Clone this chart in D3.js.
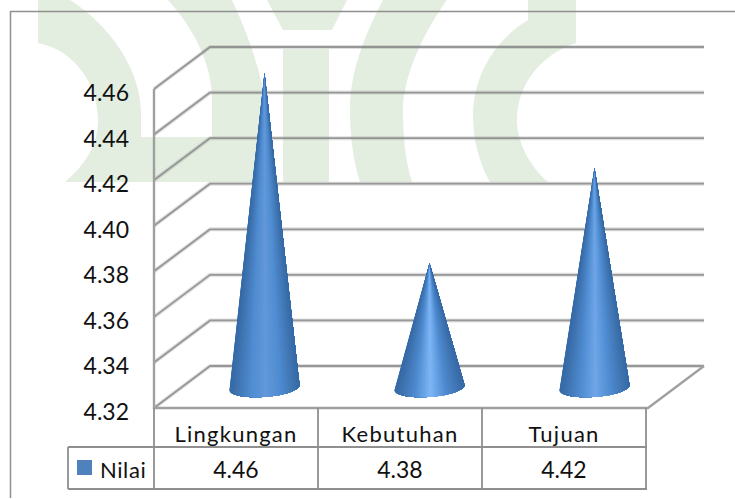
<!DOCTYPE html>
<html>
<head>
<meta charset="utf-8">
<style>
  html, body { margin: 0; padding: 0; background: #fff; }
  svg { display: block; }
  text { font-family: Lato, "Open Sans", sans-serif; fill: #111; }
</style>
<script src="https://cdn.jsdelivr.net/npm/d3@7"></script>
</head>
<body>
<svg id="chart" width="735" height="499"></svg>
<script>
const categories = ["Lingkungan", "Kebutuhan", "Tujuan"];
const seriesName = "Nilai";
const nilai = [4.46, 4.38, 4.42];
const yTicks = [4.32, 4.34, 4.36, 4.38, 4.40, 4.42, 4.44, 4.46];
const coneHighlights = ["#6299da", "#7db6f7", "#6ea6e8"];

const svg = d3.select("#chart");
const GREY = "#8f8f8f";

// Pale green emblem sitting behind the plot
const emblem = [
  "M38 0 L38 43 C75 50 98 85 98 120 C98 145 85 165 65 182 L276 182 C272 110 258 55 232 0 L168 0 C195 30 212 65 212 100 L212 137 L141 137 L141 113 C141 70 110 25 70 0 Z",
  "M267 0 L347 0 L332 30 L283 30 Z",
  "M283 49 L329 49 L329 182 L283 182 Z",
  "M383 0 C362 40 350 75 350 110 C350 135 353 160 360 182 L412 182 C405 160 403 135 403 110 C403 75 425 30 447 0 Z",
  "M528 0 L528 20 C495 40 473 75 473 117 C473 140 480 165 490 182 L548 182 C528 165 517 140 517 120 C517 85 540 55 576 43 L576 0 Z"
];
svg.append("g").selectAll("path").data(emblem).join("path")
  .attr("d", d => d).attr("fill", "#e3eee1");

// Outer chart frame: only the top and left edges fall inside the page
svg.append("path").attr("d", "M10.5 498 L10.5 11.5 L735 11.5")
  .attr("fill", "none").attr("stroke", GREY).attr("stroke-width", 1.5);

// Scales: front plane of the 3D box, plus the depth shift of the back wall
const x = d3.scaleBand().domain(categories).range([154, 646]);
const y = d3.scaleLinear().domain([4.32, 4.46]).range([408, 89]);
const depth = { dx: 56, dy: -42 };
const plotRight = 648;

// Cones stand on the middle of the floor, half a depth behind the front plane
const xCone = d3.scaleBand().domain(categories)
  .range([154 + depth.dx / 2, plotRight + depth.dx / 2 + 1]);
const yApex = d3.scaleLinear().domain([4.32, 4.46]).range([405.5, 73]);

// Gridlines: a soft wide stroke under a narrower dark one
const grid = svg.append("g").attr("fill", "none").attr("stroke-linejoin", "round");
const gridPath = v => {
  const p = d3.path();
  p.moveTo(154, y(v));
  p.lineTo(154 + depth.dx, y(v) + depth.dy);
  p.lineTo(plotRight + depth.dx, y(v) + depth.dy);
  return p.toString();
};
grid.selectAll("path.soft").data(yTicks).join("path").attr("class", "soft")
  .attr("d", gridPath).attr("stroke", "#808080").attr("stroke-opacity", 0.25).attr("stroke-width", 4);
grid.selectAll("path.core").data(yTicks).join("path").attr("class", "core")
  .attr("d", gridPath).attr("stroke", "#7f7f7f").attr("stroke-opacity", 0.75).attr("stroke-width", 1.8);

// Floor outline and the front vertical axis
const floorY = y(yTicks[0]);
svg.append("path")
  .attr("d", d3.line()([[154, y(yTicks[yTicks.length - 1])], [154, floorY], [plotRight, floorY], [plotRight + depth.dx, floorY + depth.dy]]))
  .attr("fill", "none").attr("stroke", "#a0a0a0").attr("stroke-width", 2.4);

// Each cone is painted left to right as overlapping fans, so the shading
// narrows toward the apex and no seams appear between the wedges
const SLICES = 60;
const baseRx = 35, baseRy = 9.5, baseTilt = 2.5;
const cones = svg.append("g");
categories.forEach((cat, i) => {
  const cx = xCone(cat) + xCone.bandwidth() / 2;
  const cy = floorY + depth.dy / 2 + 0.5;
  const apex = [cx, yApex(nilai[i])];
  const shade = d3.scaleLinear()
    .domain([0, 0.1, 0.28, 0.5, 0.72, 0.9, 1])
    .range(["#356aa6", "#3f74b1", "#4f8bd0", coneHighlights[i], "#4f8bd0", "#3f74b1", "#356aa6"]);
  const rim = t => {
    const a = Math.PI * t;
    return [cx - baseRx * Math.cos(a), cy + baseTilt * Math.cos(a) + baseRy * Math.sin(a)];
  };
  d3.range(SLICES).forEach(k => {
    const rest = d3.range(k, SLICES + 1).map(j => rim(j / SLICES));
    cones.append("path")
      .attr("d", d3.line()([apex, ...rest]) + "Z")
      .attr("fill", shade((rest[0][0] - (cx - baseRx)) / (2 * baseRx)));
  });
});

// Value axis labels
const yAxis = svg.append("g").attr("transform", "translate(129,0)")
  .call(d3.axisLeft(y).tickValues(yTicks).tickFormat(d3.format(".2f")).tickSize(0).tickPadding(0));
yAxis.select(".domain").remove();
yAxis.selectAll("text").attr("dy", 11.5).attr("fill", "#111")
  .style("font-size", "23px").style("font-family", "Lato, 'Open Sans', sans-serif");

// Data table under the plot
const rowTop = 447, rowBottom = 489, legendLeft = 68;
const catAxis = svg.append("g").attr("transform", "translate(0,442)")
  .call(d3.axisBottom(x).tickSize(0).tickPadding(0));
catAxis.select(".domain").remove();
catAxis.selectAll("text").attr("y", 0).attr("dy", 0).attr("fill", "#111")
  .style("font-size", "22px").style("letter-spacing", "1.25px")
  .style("font-family", "Lato, 'Open Sans', sans-serif");

svg.append("g").selectAll("text").data(nilai).join("text")
  .attr("x", (d, i) => x(categories[i]) + x.bandwidth() / 2)
  .attr("y", 478).attr("text-anchor", "middle").style("font-size", "23px")
  .text(d => d3.format(".2f")(d));

svg.append("rect").attr("x", 77).attr("y", 460).attr("width", 15).attr("height", 15).attr("fill", "#4f81bd");
svg.append("text").attr("x", 100).attr("y", 477.5).style("font-size", "22px").style("letter-spacing", "0.6px").text(seriesName);

const tableLines = svg.append("g").attr("stroke", GREY).attr("stroke-width", 1.8).attr("fill", "none");
const columnEdges = [...categories.map(c => x(c)), x.range()[1]];
tableLines.selectAll("line.col").data(columnEdges).join("line").attr("class", "col")
  .attr("x1", d => d).attr("x2", d => d).attr("y1", floorY).attr("y2", rowBottom);
tableLines.selectAll("line.row").data([rowTop, rowBottom]).join("line").attr("class", "row")
  .attr("x1", legendLeft).attr("x2", x.range()[1] + 1).attr("y1", d => d).attr("y2", d => d);
tableLines.append("line").attr("x1", legendLeft).attr("x2", legendLeft).attr("y1", rowTop).attr("y2", rowBottom);
</script>
</body>
</html>
